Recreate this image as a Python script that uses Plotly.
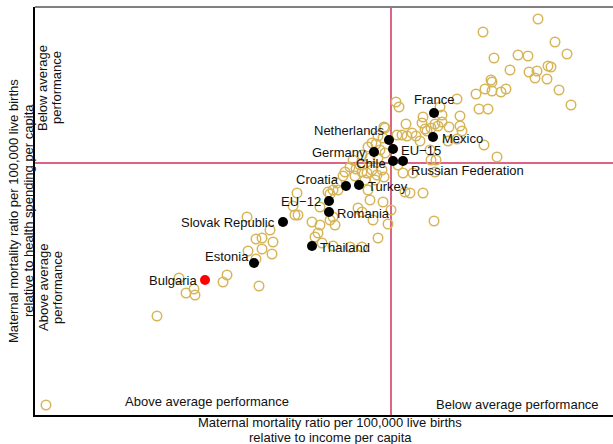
import plotly.graph_objects as go

# Axis extents (arbitrary index units)
X_MAX = 578
Y_MAX = 408
X_AVG = 356   # average: mortality relative to income per capita
Y_AVG = 252   # average: mortality relative to health spending per capita

# Highlighted countries
hl_names = ["France", "Mexico", "Netherlands", "EU\u221215", "Germany", "Chile",
            "Russian Federation", "Croatia", "Turkey", "EU\u221212", "Romania",
            "Slovak Republic", "Thailand", "Estonia", "Bulgaria"]
hl_x = [399, 398, 354, 358, 339, 358, 368, 311, 324, 294, 294, 248, 277, 219, 170]
hl_y = [302, 278, 275, 266, 263, 254, 254, 229, 230, 214, 203, 193, 169, 152, 135]
hl_color = ["black"] * 14 + ["#ff0000"]

# Other countries (hollow markers), pixel-read positions converted to units
others_px = [
    (538,19),(483,32),(555,42),(567,54),(494,58),(518,55),(528,56),(510,70),(529,72),(537,71),
    (548,66),(551,67),(535,78),(547,79),(491,80),(492,82),(485,89),(492,91),(501,92),(506,89),
    (476,94),(559,90),(457,99),(571,105),(479,109),(488,109),(396,102),(399,107),(440,107),(460,116),
    (423,117),(442,115),(406,124),(422,123),(427,131),(435,124),(438,126),(442,122),(449,127),(460,126),
    (462,131),(425,129),(431,128),(397,135),(402,135),(407,136),(412,133),(416,136),(385,128),(448,141),
    (457,139),(484,145),(497,157),(431,160),(436,160),(420,141),(430,150),
    (384,127),(378,136),(383,138),(372,143),(376,144),(380,150),(368,147),(385,153),(362,155),(353,160),
    (370,158),(378,158),
    (398,165),(403,173),(413,173),(435,172),(405,192),(410,193),(423,193),(383,202),(391,210),(388,224),
    (434,221),
    (343,176),(356,169),(362,172),(367,173),(372,170),(377,175),(382,170),(384,177),(355,176),(365,180),
    (375,180),(368,190),(337,183),(333,190),(328,192),(338,190),(330,194),(297,193),(293,206),(295,215),
    (298,215),(320,207),(333,217),(330,220),(335,225),(358,208),(362,212),(370,200),(373,220),(312,222),
    (320,225),(318,233),(315,237),(273,242),(262,238),(256,239),(247,217),(378,238),(322,243),(333,246),
    (350,247),(362,247),(270,230),(248,251),(262,249),(272,254),(256,259),(350,167),(345,172),(360,165),
    (227,275),(223,282),(259,286),(179,278),(194,289),(186,293),(195,295),(157,316),(46,405),
]
oth_x = [p[0] - 35 for p in others_px]
oth_y = [415 - p[1] for p in others_px]

# label placement: (xanchor, yanchor, xshift, yshift)
lab_pos = [("center","bottom",0,5), ("left","middle",8,-1), ("right","middle",-3,10),
           ("left","middle",7,-1), ("right","middle",-7,0), ("right","middle",-6,-2),
           ("left","middle",7,-9), ("right","middle",-6,7), ("left","middle",8,-1),
           ("right","middle",-7,0), ("left","middle",7,-1), ("right","middle",-7,0),
           ("left","middle",7,-1), ("right","middle",-4,7), ("right","middle",-7,0)]

FONT = "Liberation Sans, Arial, sans-serif"
GOLD = "#d6b559"
LINE = "#d2305a"
FS = 13

fig = go.Figure()
fig.add_trace(go.Scatter(x=oth_x, y=oth_y, mode="markers", hoverinfo="skip",
                         marker=dict(symbol="circle-open", size=9.5, color=GOLD,
                                     line=dict(width=1.5, color=GOLD))))
fig.add_trace(go.Scatter(x=hl_x, y=hl_y, mode="markers", text=hl_names,
                         marker=dict(symbol="circle", size=10, color=hl_color)))

anns = []
for n, x, y, (xa, ya, xs, ys) in zip(hl_names, hl_x, hl_y, lab_pos):
    anns.append(dict(x=x, y=y, text=n, showarrow=False, xanchor=xa, yanchor=ya,
                     xshift=xs, yshift=ys, borderpad=0,
                     font=dict(size=FS, color="#111", family=FONT)))

def px_x(p):
    return (p - 35) / X_MAX

def px_y(p):
    return (415 - p) / Y_MAX

def txt(t, x, y, xa="center", angle=0):
    return dict(xref="paper", yref="paper", x=px_x(x), y=px_y(y), xanchor=xa, yanchor="middle",
                textangle=angle, text=t, showarrow=False, borderpad=0,
                font=dict(size=FS, color="#111", family=FONT))

anns += [
    txt("Above average performance", 124, 401, "left"),
    txt("Below average performance", 435, 404, "left"),
    txt("Below average", 43, 88, angle=-90),
    txt("performance", 57, 88, angle=-90),
    txt("Above average", 43, 288, angle=-90),
    txt("performance", 57, 288, angle=-90),
    txt("Maternal mortality ratio per 100,000 live births", 13, 211, angle=-90),
    txt("relative to health spending per capita", 28, 211, angle=-90),
    txt("Maternal mortality ratio per 100,000 live births", 330, 422),
    txt("relative to income per capita", 330, 437),
]

shapes = [
    dict(type="line", xref="x", yref="paper", x0=X_AVG, x1=X_AVG, y0=0, y1=1, line=dict(color=LINE, width=1.5), layer="below"),
    dict(type="line", xref="paper", yref="y", x0=0, x1=1, y0=Y_AVG, y1=Y_AVG, line=dict(color=LINE, width=1.5), layer="below"),
    dict(type="line", xref="paper", yref="paper", x0=0, x1=1, y0=1, y1=1, line=dict(color="#808080", width=2)),
]

fig.update_layout(
    width=613, height=444, margin=dict(l=35, r=0, t=7, b=29),
    paper_bgcolor="white", plot_bgcolor="white", showlegend=False,
    annotations=anns, shapes=shapes,
    xaxis=dict(range=[0, X_MAX], showticklabels=False, ticks="", showgrid=False, zeroline=False,
               showline=True, linecolor="black", linewidth=1.5, fixedrange=True),
    yaxis=dict(range=[0, Y_MAX], showticklabels=False, ticks="", showgrid=False, zeroline=False,
               showline=True, linecolor="black", linewidth=1.5, fixedrange=True),
)

fig.write_html("out.html", config={"displayModeBar": False},
               post_script="document.body.style.margin='0';document.body.style.overflow='hidden';")
